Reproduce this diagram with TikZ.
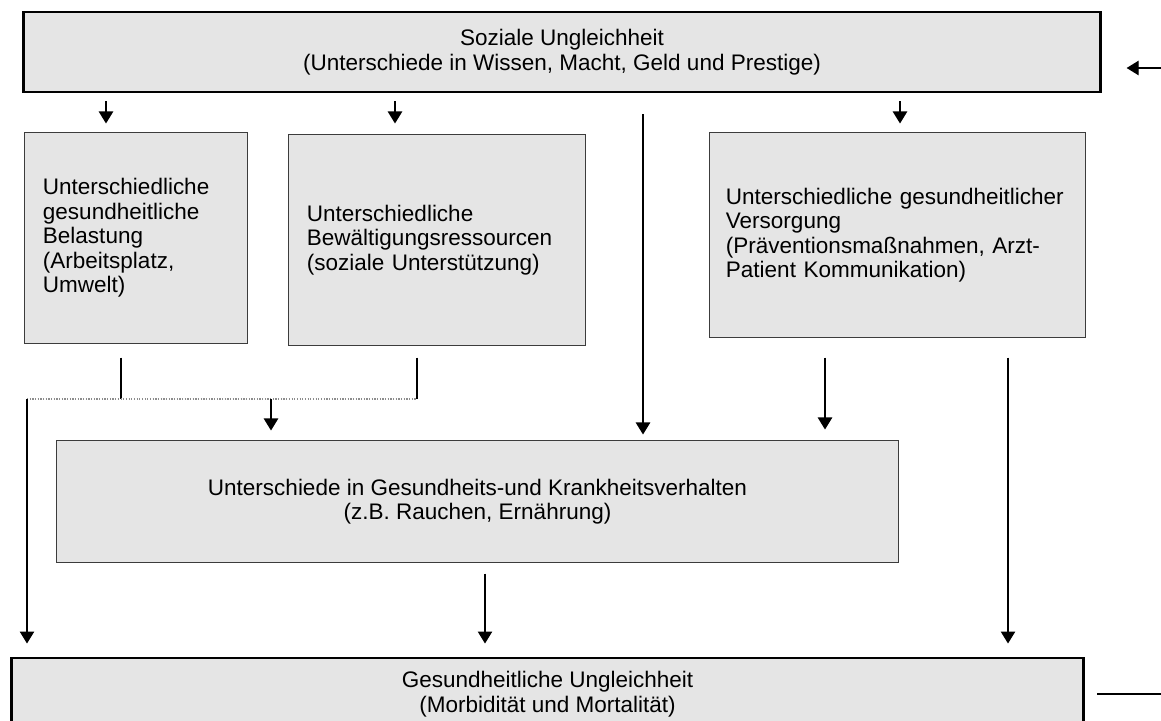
\documentclass[tikz,border=0pt]{standalone}
\usepackage{fontspec}
\setmainfont{Liberation Sans}
\usetikzlibrary{arrows.meta,positioning,calc}
\definecolor{boxfill}{HTML}{E5E5E5}
\definecolor{edge}{HTML}{3C3C3C}
\definecolor{seamgray}{HTML}{8C8C8C}
\hyphenpenalty=10000

\tikzset{
  level/.style={draw=black, line width=2.1pt, fill=boxfill, align=center, inner sep=0pt},
  factor/.style={draw=edge, line width=0.7pt, fill=boxfill, align=left, inner xsep=0.45cm, inner ysep=0pt},
  flow/.style={line width=0.9pt, -{Triangle[length=0.3cm,width=0.36cm]}},
  tie/.style={line width=0.9pt},
  seam/.style={draw=seamgray, line width=0.9pt, densely dotted},
}

\begin{document}
\begin{tikzpicture}[x=0.025cm, y=-0.025cm, font=\fontsize{16}{17.4}\selectfont]
  \useasboundingbox[fill=white] (0,0) rectangle (1161,721);

  \node[level, minimum width=26.9cm, minimum height=2cm] (soz) at (562,52)
    {Soziale Ungleichheit\\(Unterschiede in Wissen, Macht, Geld und Prestige)};
  \node[factor, text width=4.65cm, minimum height=5.25cm] (bel) at (136,238)
    {Unterschiedliche\\gesundheitliche\\Belastung\\(Arbeitsplatz,\\Umwelt)};
  \node[factor, text width=6.5cm, minimum height=5.25cm] (res) at (437,240)
    {Unterschiedliche\\Bewältigungsressourcen\\(soziale Unterstützung)};
  \node[factor, inner xsep=0.4cm, text width=8.575cm, minimum height=5.1cm] (ver) at (897.5,235)
    {Unterschiedliche gesundheitlicher\\Versorgung\\(Präventionsmaßnahmen, Arzt-\\Patient Kommunikation)};
  \node[factor, align=center, inner xsep=0pt, minimum width=21.025cm, minimum height=3.025cm] (verh) at (477.5,501.5)
    {Unterschiede in Gesundheits-und Krankheitsverhalten\\(z.B. Rauchen, Ernährung)};
  \node[level, minimum width=26.775cm, minimum height=1.8cm] (ges) at (547.5,694)
    {Gesundheitliche Ungleichheit\\(Morbidität und Mortalität)};

  % columns of the connectors
  \coordinate (k1) at (106,0);
  \coordinate (k2) at (395,0);
  \coordinate (k3) at (643,0);
  \coordinate (k4) at (900,0);
  \coordinate (k5) at (121,0);
  \coordinate (k7) at (271,0);
  \coordinate (k8) at (825,0);
  \coordinate (k9) at (1008,0);
  \coordinate (k10) at (485,0);
  \coordinate (jl) at (27,399);
  \coordinate (jr) at (417,399);
  \coordinate (in) at (1161,68);
  \coordinate (out) at (1161,694);

  \draw[flow, shorten <=0.2cm, shorten >=0.225cm] (soz.south -| k1) -- (bel.north -| k1);
  \draw[flow, shorten <=0.2cm, shorten >=0.275cm] (soz.south -| k2) -- (res.north -| k2);
  \draw[flow, shorten <=0.525cm, shorten >=0.15cm] (soz.south -| k3) -- (verh.north -| k3);
  \draw[flow, shorten <=0.2cm, shorten >=0.225cm] (soz.south -| k4) -- (ver.north -| k4);

  \draw[tie, shorten <=0.35cm] (bel.south -| k5) -- (jl -| k5);
  \draw[tie, shorten <=0.3cm] (res.south -| jr) -- (jr);
  \draw[seam] (jl) -- (jr);
  \draw[flow, shorten >=0.25cm] (jl -| k7) -- (verh.north -| k7);
  \draw[flow, shorten >=0.325cm] (jl) -- (ges.north -| jl);

  \draw[flow, shorten <=0.5cm, shorten >=0.275cm] (ver.south -| k8) -- (verh.north -| k8);
  \draw[flow, shorten <=0.5cm, shorten >=0.325cm] (ver.south -| k9) -- (ges.north -| k9);
  \draw[flow, shorten <=0.275cm, shorten >=0.325cm] (verh.south -| k10) -- (ges.north -| k10);

  \draw[flow, shorten >=0.625cm] (in) -- (soz.east |- in);
  \draw[tie, shorten >=0.3cm] (out) -- (ges.east |- out);
\end{tikzpicture}
\end{document}
